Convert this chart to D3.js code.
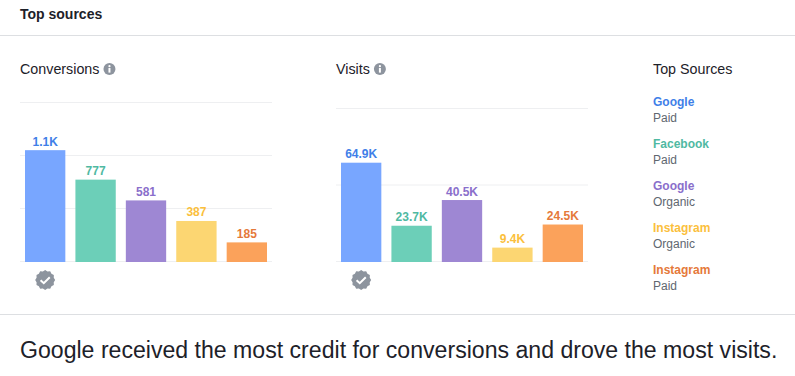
<!DOCTYPE html>
<html>
<head>
<meta charset="utf-8">
<script src="https://cdn.jsdelivr.net/npm/d3@7"></script>
<style>
  html, body { margin: 0; padding: 0; background: #fff; }
  svg { display: block; font-family: "Liberation Sans", Arial, sans-serif; }
</style>
</head>
<body>
<div id="chart"></div>
<script>
const sourceNames = ["Google", "Facebook", "Google", "Instagram", "Instagram"];
const sourceTypes = ["Paid", "Paid", "Organic", "Organic", "Paid"];
const barColors = ["#78a6ff", "#6ccfb8", "#9e87d3", "#fcd672", "#fba25b"];
const labelColors = ["#3f7fe8", "#4fb9a2", "#8a6fcb", "#fbbf3d", "#e5793a"];

const conversionValues = [1055, 777, 581, 387, 185];
const conversionLabels = ["1.1K", "777", "581", "387", "185"];
const conversionTicks = [0, 500, 1000, 1500];

const visitValues = [64900, 23700, 40500, 9400, 24500];
const visitLabels = ["64.9K", "23.7K", "40.5K", "9.4K", "24.5K"];
const visitTicks = [0, 50000, 100000];

const width = 795;
const height = 376;

const svg = d3
  .select("#chart")
  .append("svg")
  .attr("width", width)
  .attr("height", height);

function hRule(y) {
  svg
    .append("line")
    .attr("x1", 0)
    .attr("x2", width)
    .attr("y1", y)
    .attr("y2", y)
    .attr("stroke", "#dddfe2");
}

function drawInfoIcon(cx, cy) {
  const g = svg.append("g").attr("transform", `translate(${cx},${cy})`);
  g.append("circle").attr("r", 6).attr("fill", "#8d949e");
  g.append("circle").attr("cy", -2.8).attr("r", 1.1).attr("fill", "#fff");
  g.append("rect")
    .attr("x", -1)
    .attr("y", -1)
    .attr("width", 2)
    .attr("height", 4.6)
    .attr("fill", "#fff");
}

function drawBadge(cx, cy) {
  const g = svg.append("g").attr("transform", `translate(${cx},${cy})`);
  const points = d3.range(24).map((i) => {
    const a = (i / 24) * 2 * Math.PI;
    const r = i % 2 ? 8.9 : 10;
    return [r * Math.sin(a), r * Math.cos(a)];
  });
  g.append("path")
    .attr("d", d3.line().curve(d3.curveLinearClosed)(points))
    .attr("fill", "#8d949e");
  g.append("path")
    .attr("d", "M-4.6,0.2L-1.4,3.2L4.6,-2.8")
    .attr("fill", "none")
    .attr("stroke", "#fff")
    .attr("stroke-width", 2);
}

function drawChart(opts) {
  const y = d3
    .scaleLinear()
    .domain([0, opts.yMax])
    .range([opts.baseline, opts.top]);
  const x = d3
    .scaleBand()
    .domain(d3.range(opts.values.length))
    .range([opts.left + 5, opts.left + 247])
    .paddingInner(0.2);

  const title = svg
    .append("text")
    .attr("x", opts.left)
    .attr("y", 74)
    .attr("font-size", 14.3)
    .attr("fill", "#1d2129")
    .text(opts.title);
  drawInfoIcon(opts.left + title.node().getComputedTextLength() + 10, 69);

  const axis = svg
    .append("g")
    .attr("transform", `translate(${opts.left},0)`)
    .call(
      d3
        .axisLeft(y)
        .tickValues(opts.ticks)
        .tickSize(-252)
        .tickFormat("")
        .offset(0)
    );
  axis.select(".domain").remove();
  axis.selectAll("line").attr("stroke", "#eeeff1");

  // bars sit half a pixel below the crisp gridlines
  svg
    .selectAll(null)
    .data(opts.values)
    .join("rect")
    .attr("x", (d, i) => x(i))
    .attr("y", (d) => y(d) + 0.5)
    .attr("width", x.bandwidth())
    .attr("height", (d) => y(0) - y(d))
    .attr("fill", (d, i) => barColors[i]);

  svg
    .selectAll(null)
    .data(opts.values)
    .join("text")
    .attr("x", (d, i) => x(i) + x.bandwidth() / 2)
    .attr("y", (d) => y(d) - 4)
    .attr("text-anchor", "middle")
    .attr("font-size", 12)
    .attr("font-weight", "bold")
    .attr("fill", (d, i) => labelColors[i])
    .text((d, i) => opts.labels[i]);

  drawBadge(x(0) + x.bandwidth() / 2, 280);
}

svg
  .append("text")
  .attr("x", 20)
  .attr("y", 19)
  .attr("font-size", 14)
  .attr("font-weight", "bold")
  .attr("fill", "#1d2129")
  .text("Top sources");

hRule(35.5);
hRule(314.5);

drawChart({
  title: "Conversions",
  left: 20,
  top: 102.5,
  baseline: 261.5,
  yMax: 1500,
  ticks: conversionTicks,
  values: conversionValues,
  labels: conversionLabels,
});

drawChart({
  title: "Visits",
  left: 336,
  top: 108.5,
  baseline: 261.5,
  yMax: 100000,
  ticks: visitTicks,
  values: visitValues,
  labels: visitLabels,
});

svg
  .append("text")
  .attr("x", 653)
  .attr("y", 74)
  .attr("font-size", 14.3)
  .attr("fill", "#1d2129")
  .text("Top Sources");

const legendY = d3
  .scalePoint()
  .domain(d3.range(sourceNames.length))
  .range([106, 274]);

const legend = svg
  .selectAll(".legend-item")
  .data(sourceNames)
  .join("g")
  .attr("class", "legend-item")
  .attr("transform", (d, i) => `translate(653,${legendY(i)})`);

legend
  .append("text")
  .attr("font-size", 12)
  .attr("font-weight", "bold")
  .attr("fill", (d, i) => labelColors[i])
  .text((d) => d);

legend
  .append("text")
  .attr("y", 16)
  .attr("font-size", 12)
  .attr("fill", "#606770")
  .text((d, i) => sourceTypes[i]);

svg
  .append("text")
  .attr("x", 20)
  .attr("y", 358)
  .attr("font-size", 23.1)
  .attr("fill", "#1d2129")
  .text("Google received the most credit for conversions and drove the most visits.");
</script>
</body>
</html>
